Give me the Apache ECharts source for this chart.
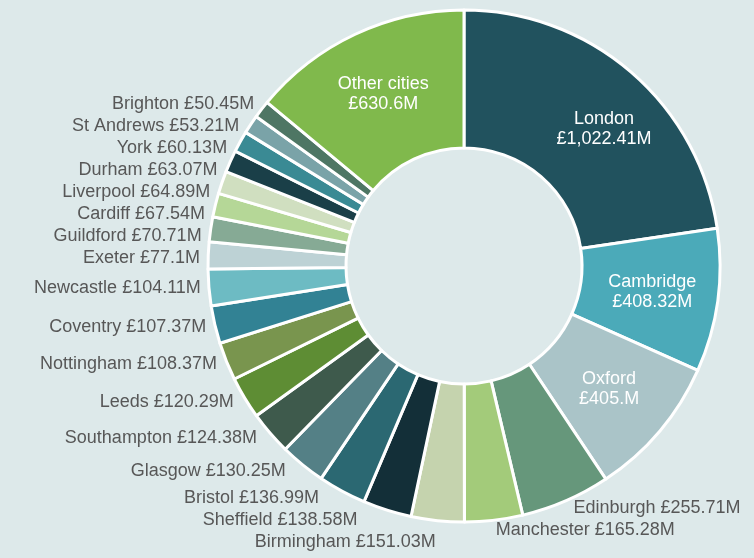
<!DOCTYPE html>
<html>
<head>
<meta charset="utf-8">
<script src="https://cdn.jsdelivr.net/npm/echarts@6/dist/echarts.min.js"></script>
<style>
  html, body { margin: 0; padding: 0; background: #dde9ea; }
  #chart { width: 754px; height: 558px; }
</style>
</head>
<body>
<div id="chart"></div>
<script>
const cities = ['London', 'Cambridge', 'Oxford', 'Edinburgh', 'Manchester', 'Birmingham', 'Sheffield',
  'Bristol', 'Glasgow', 'Southampton', 'Leeds', 'Nottingham', 'Coventry', 'Newcastle', 'Exeter',
  'Guildford', 'Cardiff', 'Liverpool', 'Durham', 'York', 'St Andrews', 'Brighton', 'Other cities']
const values = [1022.41, 408.32, 405, 255.71, 165.28, 151.03, 138.58, 136.99, 130.25, 124.38, 120.29,
  108.37, 107.37, 104.11, 77.1, 70.71, 67.54, 64.89, 63.07, 60.13, 53.21, 50.45, 630.6]
const valueLabels = ['£1,022.41M', '£408.32M', '£405.M', '£255.71M', '£165.28M', '£151.03M', '£138.58M',
  '£136.99M', '£130.25M', '£124.38M', '£120.29M', '£108.37M', '£107.37M', '£104.11M', '£77.1M',
  '£70.71M', '£67.54M', '£64.89M', '£63.07M', '£60.13M', '£53.21M', '£50.45M', '£630.6M']
const insideLabels = ['London', 'Cambridge', 'Oxford', 'Other cities']

const colors = ['#21525e', '#4baab9', '#aac4c8', '#66977b', '#a3cb7a', '#c5d3ae', '#132f38',
  '#2b6872', '#548086', '#3e5a4c', '#5e8d34', '#79954e', '#328294', '#6dbbc3', '#bdd2d5',
  '#86aa95', '#b5d797', '#d0dfc0', '#1a3f48', '#3a8a94', '#7aa3a8', '#4e7664', '#80b94c']

const chart = echarts.init(document.getElementById('chart'))

const seriesData = cities.map((name, i) => {
  const item = { name, value: values[i], itemStyle: { color: colors[i] } }
  if (insideLabels.includes(name)) {
    item.label = {
      position: 'inside',
      color: '#ffffff',
      formatter: name + '\n' + valueLabels[i]
    }
  }
  return item
})
// london's label sits a bit further round in the original
seriesData[0].label.offset = [16, 7]

chart.setOption({
  backgroundColor: '#dde9ea',
  animation: false,
  series: [
    {
      type: 'pie',
      center: [464, 266],
      radius: [118, 256],
      startAngle: 90,
      clockwise: true,
      avoidLabelOverlap: true,
      itemStyle: {
        borderColor: '#ffffff',
        borderWidth: 3
      },
      label: {
        show: true,
        position: 'outside',
        color: '#575757',
        fontFamily: 'Liberation Sans, Arial, sans-serif',
        fontSize: 18,
        lineHeight: 20,
        overflow: 'none',
        distanceToLabelLine: 1,
        formatter: (p) => p.name + ' ' + valueLabels[p.dataIndex]
      },
      labelLine: {
        show: false,
        length: 8,
        length2: 0
      },
      data: seriesData
    }
  ]
})
</script>
</body>
</html>
